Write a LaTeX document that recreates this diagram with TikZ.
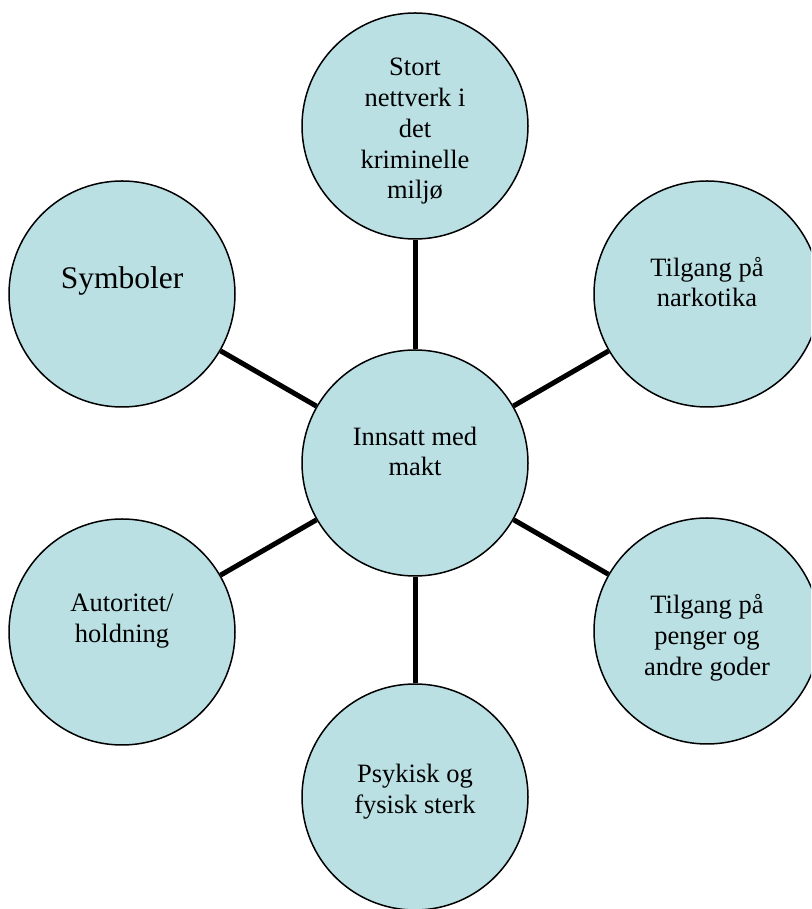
\documentclass[tikz,border=0pt]{standalone}
\usepackage{fontspec}
\setmainfont{Liberation Serif}
\usepackage[usenames,dvipsnames,svgnames]{xcolor}
\definecolor{bubblefill}{RGB}{186,224,228}

\begin{document}
\begin{tikzpicture}[line cap=round,line join=round
  ,x=1pt,y=1pt
  ,bubble/.style={circle,draw=black,line width=1.5pt,fill=bubblefill
    ,minimum size=226pt,inner sep=0pt}
  ,lbl/.style={align=center,inner sep=0pt
    ,font=\fontsize{26.5}{30.75}\selectfont}
  ,spoke/.style={line width=5pt,line cap=butt}]
  \useasboundingbox (0,0) rectangle (811,909);
  \clip (0,0) rectangle (811,909);
  \node[bubble] (innsatt) at (415,446) {};
  \node[bubble] (nettverk) at (415,783) {};
  \node[bubble] (narko) at (707,615) {};
  \node[bubble] (penger) at (707,278) {};
  \node[bubble] (sterk) at (415,112) {};
  \node[bubble] (autoritet) at (122,277) {};
  \node[bubble] (symboler) at (122,615) {};
  \foreach \n in {nettverk,narko,penger,sterk,autoritet,symboler}
  \draw[spoke] (innsatt) -- (\n);
  \node[lbl] (tinnsatt) at (415,457.5) {Innsatt med\\makt};
  \node[lbl] (tnettverk) at (415,777.6) {Stort\\nettverk i\\det\\kriminelle\\milj\o};
  \node[lbl] (tnarko) at (707,627) {Tilgang p\aa\\narkotika};
  \node[lbl] (tpenger) at (707,271) {Tilgang p\aa\\penger og\\andre goder};
  \node[lbl] (tsterk) at (415,117.5) {Psykisk og\\fysisk sterk};
  \node[lbl] (tautoritet) at (122,288) {Autoritet/\\holdning};
  \node[lbl,font=\fontsize{31.5}{36}\selectfont] (tsymboler) at (122,628) {Symboler};
\end{tikzpicture}
\end{document}
